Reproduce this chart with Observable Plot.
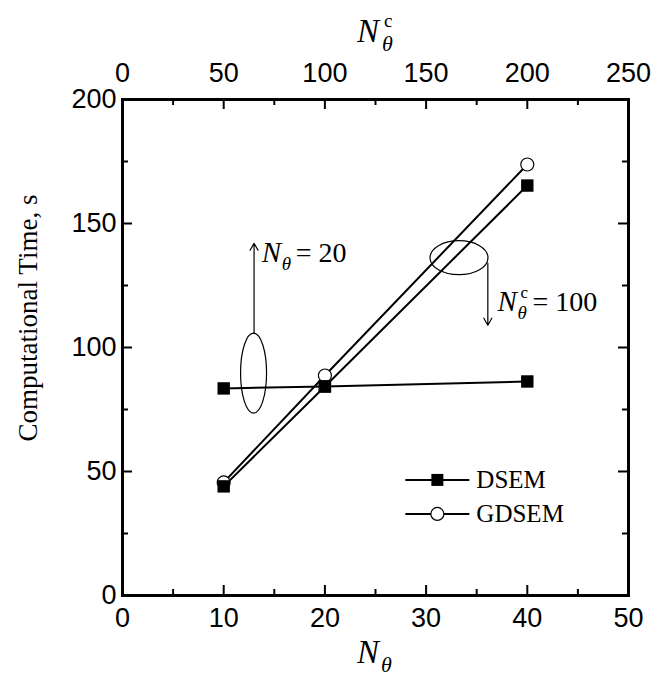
<!DOCTYPE html>
<html><head><meta charset="utf-8">
<script src="https://cdn.jsdelivr.net/npm/d3@7"></script>
<script src="https://cdn.jsdelivr.net/npm/@observablehq/plot@0.6"></script>
<style>body{margin:0;background:#fff}</style>
</head><body><div id="chart"></div>
<script>
// Data
const nTheta = [10, 20, 40];                 // bottom axis, N_theta (N_theta^c = 100)
const dsemTime = [44, 84.3, 165.3];
const gdsemTime = [45.6, 88.7, 173.8];
const nThetaC = [50, 100, 200];              // top axis, N_theta^c (N_theta = 20)
const dsemTimeC = [83.5, 84.3, 86.3];
const xMajor = [0, 10, 20, 30, 40, 50];
const xMinor = [5, 15, 25, 35, 45];
const yMajor = [0, 50, 100, 150, 200];
const yMinor = [25, 75, 125, 175];
const topFactor = 5; // top axis 0..250 shares the frame with bottom 0..50
const seriesNames = ["DSEM", "GDSEM"];

const serif = "'Liberation Serif', 'Times New Roman', serif";
const sans = "'Liberation Sans', Arial, sans-serif";

const steepD = nTheta.map((x, i) => ({x, y: dsemTime[i]}));
const steepG = nTheta.map((x, i) => ({x, y: gdsemTime[i]}));
const flatD = nThetaC.map((c, i) => ({x: c / topFactor, y: dsemTimeC[i]}));

function richText(parts) {
  return (ax, ay) => (index, scales) => {
    const g = d3.create("svg:g").attr("text-anchor", "start");
    const X = scales.x(ax), Y = scales.y(ay);
    for (const p of parts) {
      g.append("text")
        .attr("x", X + p.x).attr("y", Y + p.y)
        .attr("text-anchor", "start")
        .attr("font-family", p.family || serif)
        .attr("font-size", p.size)
        .attr("font-style", p.italic ? "italic" : "normal")
        .attr("fill", "black")
        .text(p.t);
    }
    return g.node();
  };
}
function ellipse(cx, cy, rx, ry) {
  return (index, scales) => d3.create("svg:ellipse")
      .attr("cx", scales.x(cx)).attr("cy", scales.y(cy))
      .attr("rx", rx).attr("ry", ry)
      .attr("fill", "none").attr("stroke", "black").attr("stroke-width", 1.2).node();
}
function legendMark(ax, ay) {
  return (index, scales) => {
    const g = d3.create("svg:g").attr("text-anchor", "start");
    const X = scales.x(ax), Y = scales.y(ay);
    seriesNames.forEach((name, i) => {
      const yy = Y + i * 34;
      g.append("line").attr("x1", X).attr("x2", X + 64).attr("y1", yy).attr("y2", yy)
        .attr("stroke", "black").attr("stroke-width", 2);
      if (i === 0) g.append("rect").attr("x", X + 26).attr("y", yy - 6).attr("width", 12).attr("height", 12).attr("fill", "black");
      else g.append("circle").attr("cx", X + 32).attr("cy", yy).attr("r", 6.5).attr("fill", "white").attr("stroke", "black").attr("stroke-width", 1.2);
      g.append("text").attr("x", X + 71).attr("y", yy + 8).attr("text-anchor", "start")
        .attr("font-family", serif).attr("font-size", 25).text(name);
    });
    return g.node();
  };
}

const label1 = richText([
  {t: "N", x: 0, y: 0, size: 29, italic: true},
  {t: "θ", x: 20, y: 8, size: 19, italic: true},
  {t: "= 20", x: 34, y: 0, size: 28}
]);
const label2 = richText([
  {t: "N", x: 0, y: 0, size: 29, italic: true},
  {t: "c", x: 23, y: -13, size: 17},
  {t: "θ", x: 20, y: 8, size: 19, italic: true},
  {t: "= 100", x: 35, y: 0, size: 28}
]);
const titleBottom = richText([
  {t: "N", x: -18, y: 0, size: 33, italic: true},
  {t: "θ", x: 6, y: 9, size: 22, italic: true}
]);
const titleTop = richText([
  {t: "N", x: -18, y: 0, size: 33, italic: true},
  {t: "c", x: 9, y: -15, size: 19},
  {t: "θ", x: 7, y: 9, size: 22, italic: true}
]);

// inward tick marks: zero-length rules at the frame edge, extended by an inset (px)
const tickX = (data, yv, len) => Plot.ruleX(data, {x: d => d, y1: yv, y2: yv, insetBottom: len, stroke: "black", strokeWidth: 2});
const tickY = (data, xv, len) => Plot.ruleY(data, {y: d => d, x1: xv, x2: xv, insetRight: len, stroke: "black", strokeWidth: 2});

const chart = Plot.plot({
  width: 659, height: 682,
  marginLeft: 122, marginRight: 31, marginTop: 99, marginBottom: 87,
  style: {background: "white", overflow: "visible"},
  x: {domain: [0, 50], label: null},
  y: {domain: [0, 200], label: null},
  marks: [
    tickX(xMajor, 0, 10),
    tickX(xMinor, 0, 6),
    tickX(xMajor, 200, -10),
    tickX(xMinor, 200, -6),
    tickY(yMajor, 0, -10),
    tickY(yMinor, 0, -6),
    tickY(yMajor, 50, 10),
    tickY(yMinor, 50, 6),
    // tick labels
    Plot.axisX(xMajor, {anchor: "bottom", tickSize: 0, tickPadding: 12, fontSize: 27, fontFamily: sans, label: null}),
    Plot.axisX(xMajor, {anchor: "top", tickSize: 0, tickPadding: 18, fontSize: 27, fontFamily: sans, label: null, tickFormat: d => d * topFactor}),
    Plot.axisY(yMajor, {anchor: "left", tickSize: 0, tickPadding: 6, fontSize: 27, fontFamily: sans, label: null}),
    Plot.frame({stroke: "black", strokeWidth: 3}),
    // lines
    Plot.line(steepD, {x: "x", y: "y", stroke: "black", strokeWidth: 2}),
    Plot.line(steepG, {x: "x", y: "y", stroke: "black", strokeWidth: 2}),
    Plot.line(flatD, {x: "x", y: "y", stroke: "black", strokeWidth: 2}),
    Plot.dot(steepG, {x: "x", y: "y", r: 6.5, fill: "white", stroke: "black", strokeWidth: 1.2}),
    Plot.dot(steepD, {x: "x", y: "y", symbol: "square", r: 7, fill: "black", stroke: "none"}),
    Plot.dot(flatD, {x: "x", y: "y", symbol: "square", r: 7, fill: "black", stroke: "none"}),
    // annotations
    ellipse(13.0, 89.5, 13, 40),
    Plot.arrow([{x: 13.0, y1: 105.6, y2: 142}], {x1: "x", x2: "x", y1: "y1", y2: "y2", stroke: "black", strokeWidth: 1.2, headLength: 10, bend: 0}),
    label1(13.8, 134.3),
    ellipse(33.3, 136, 29, 17),
    Plot.arrow([{x: 36.1, y1: 134, y2: 109}], {x1: "x", x2: "x", y1: "y1", y2: "y2", stroke: "black", strokeWidth: 1.2, headLength: 10, bend: 0}),
    label2(37.1, 114.5),
    legendMark(28, 46.4),
    // axis titles
    titleBottom(25, -27.4),
    titleTop(25, 223)
  ]
});
const svg = d3.select(chart);
svg.append("text")
  .attr("transform", "translate(37,318) rotate(-90)")
  .attr("text-anchor", "middle")
  .attr("font-family", serif).attr("font-size", 27)
  .text("Computational Time, s");
document.getElementById("chart").append(chart);
</script>
</body></html>
